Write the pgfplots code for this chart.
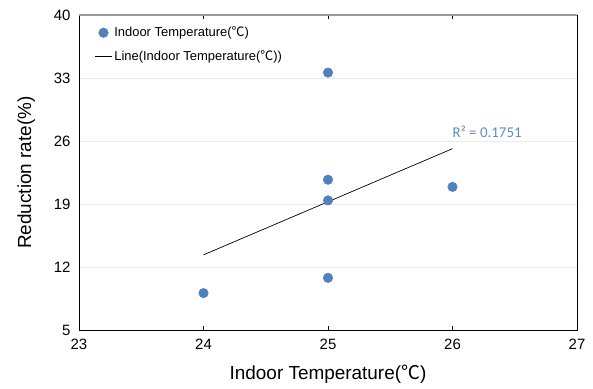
\documentclass[border=0pt]{standalone}
\usepackage{fontspec}
\setmainfont{Liberation Sans}
\newfontfamily\cjk{Noto Sans CJK KR}
\newfontfamily\calib{Carlito}
\usepackage{pgfplots}
\pgfplotsset{compat=1.18}
\definecolor{ptblue}{HTML}{4F81BD}
\definecolor{rblue}{HTML}{5B8BC9}
\newcommand{\degc}{{\cjk ℃}}
\begin{document}
\begin{tikzpicture}[x=1bp,y=1bp]
\path[use as bounding box] (0,0) rectangle (593,388);
\begin{axis}[
  at={(79bp,58bp)}, anchor=south west,
  scale only axis, width=498bp, height=315bp,
  xmin=23, xmax=27, ymin=5, ymax=40,
  xtick={23,24,25,26,27}, ytick={5,12,19,26,33,40},
  ymajorgrids, major grid style={draw=black!8, line width=0.8pt},
  axis line style={black, line width=0.9pt},
  tick align=inside,
  xtick style={black, line width=0.6pt},
  ytick style={draw=none},
  major tick length=4bp,
  tick label style={font=\fontsize{15}{17}\selectfont},
  xticklabel style={yshift=-6bp},
  yticklabel style={xshift=-5bp},
  /pgf/number format/assume math mode=true,
  xlabel={Indoor Temperature(\degc)},
  ylabel={Reduction rate(\%)},
  label style={font=\fontsize{19}{21}\selectfont},
  xlabel style={yshift=-8bp},
  ylabel style={yshift=12bp},
  legend style={at={(0.025,0.975)}, anchor=north west, draw=none, fill=none,
    font=\fontsize{13}{15}\selectfont, row sep=8bp},
  legend cell align=left,
  clip=false,
]
\addplot[only marks, mark=*, mark size=4.8bp, mark options={draw=ptblue, fill=ptblue}]
  coordinates {(24,9.1) (25,33.6) (25,21.7) (25,19.4) (25,10.8) (26,20.9)};
\addlegendentry{Indoor Temperature(\degc)}
\addplot[black, line width=0.7pt]
  coordinates {(24,13.35) (26,25.15)};
\addlegendentry{Line(Indoor Temperature(\degc))}
\node[anchor=south west, text=rblue, font=\calib\fontsize{15}{17}\selectfont, inner sep=0pt]
  at (axis cs:26.0,26.4) {R² = 0.1751};
\draw[black!40, line width=1.2pt] (axis cs:23,40) -- (axis cs:27,40);
\end{axis}
\end{tikzpicture}
\end{document}
